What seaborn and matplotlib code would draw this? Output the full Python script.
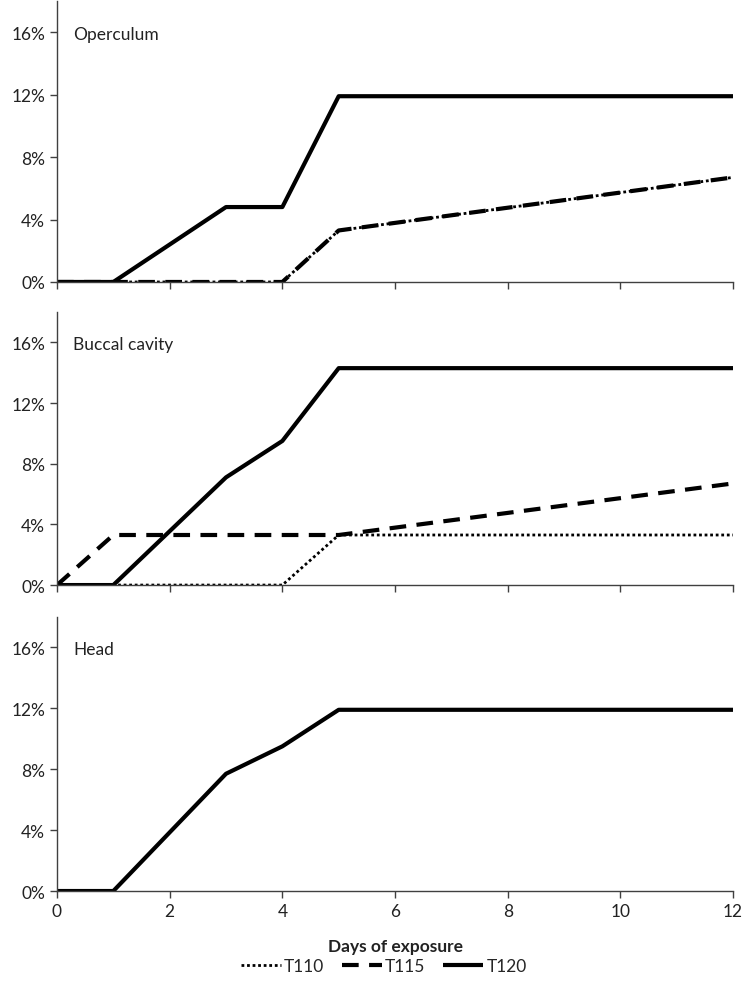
import matplotlib
matplotlib.use("Agg")
import matplotlib.pyplot as plt
import matplotlib.transforms as mtransforms
import seaborn as sns
import pandas as pd
from matplotlib.ticker import FuncFormatter, MultipleLocator
from matplotlib.lines import Line2D

days = [0, 1, 3, 4, 5, 12]
panels = ["Operculum", "Buccal cavity", "Head"]
series = ["T110", "T115", "T120"]

operculum_T110 = [0, 0, 0, 0, 3.3, 6.7]
operculum_T115 = [0, 0, 0, 0, 3.3, 6.7]
operculum_T120 = [0, 0, 4.8, 4.8, 11.9, 11.9]

buccal_T110 = [0, 0, 0, 0, 3.3, 3.3]
buccal_T115 = [0, 3.3, 3.3, 3.3, 3.3, 6.7]
buccal_T120 = [0, 0, 7.1, 9.5, 14.3, 14.3]

# T110 and T115 are not visible in the Head panel
head_T110 = []
head_T115 = []
head_T120 = [0, 0, 7.7, 9.5, 11.9, 11.9]

values = {
    "Operculum": [operculum_T110, operculum_T115, operculum_T120],
    "Buccal cavity": [buccal_T110, buccal_T115, buccal_T120],
    "Head": [head_T110, head_T115, head_T120],
}

rows = []
for p in panels:
    for s, vals in zip(series, values[p]):
        for d, v in zip(days, vals):
            rows.append({"panel": p, "series": s, "day": d, "value": v / 100})
df = pd.DataFrame(rows)

sns.set_style("white")
plt.rcParams["font.family"] = ["Lato", "DejaVu Sans"]

styles = {
    "T110": dict(linestyle=(0, (1, 1.0)), linewidth=2.0),
    "T115": dict(linestyle=(0, (4, 2.5)), linewidth=3.0),
    "T120": dict(linestyle="-", linewidth=3.0),
}

fig = plt.figure(figsize=(7.45, 9.95), dpi=100)
rects = [
    (0.0765, 0.7156, 0.9075, 0.2824),
    (0.0765, 0.4110, 0.9075, 0.2744),
    (0.0765, 0.1035, 0.9075, 0.2755),
]

for i, (p, r) in enumerate(zip(panels, rects)):
    ax = fig.add_axes(r)
    sub = df[df["panel"] == p]
    for s in series:
        d = sub[sub["series"] == s]
        if d.empty:
            continue
        sns.lineplot(data=d, x="day", y="value", ax=ax, color="black",
                     estimator=None, sort=False, legend=False,
                     solid_capstyle="butt", dash_capstyle="butt", **styles[s])
    ax.set_xlim(0, 12)
    ax.set_ylim(0, 0.18)
    ax.yaxis.set_major_locator(MultipleLocator(0.04))
    ax.yaxis.set_major_formatter(FuncFormatter(lambda v, _: f"{v*100:.0f}%"))
    ax.xaxis.set_major_locator(MultipleLocator(2))
    ax.set_ylabel("")
    ax.set_xlabel("")
    for sp in ["top", "right"]:
        ax.spines[sp].set_visible(False)
    for sp in ["left", "bottom"]:
        ax.spines[sp].set_color("#404040")
        ax.spines[sp].set_linewidth(1.0)
    ax.tick_params(axis="both", which="major", direction="out", length=5,
                   width=1, color="#404040", labelsize=12.5, labelcolor="#222222",
                   left=True, bottom=True)
    trans = mtransforms.blended_transform_factory(ax.transAxes, ax.transData)
    ax.text(0.024, 0.159, p, transform=trans, fontsize=12.5,
            color="#222222", va="center", ha="left")
    if i < 2:
        ax.tick_params(axis="x", labelbottom=False)
    else:
        ax.set_xlabel("Days of exposure", fontsize=12.5, fontweight="bold",
                      color="#222222", labelpad=14)

handles = [Line2D([0], [0], color="black", solid_capstyle="butt",
                  dash_capstyle="butt", **styles[s]) for s in series]
fig.legend(handles, series, loc="center", bbox_to_anchor=(0.515, 0.028),
           ncol=3, frameon=False, fontsize=12.5, handlelength=2.3,
           handletextpad=0.2, columnspacing=1.0)

fig.savefig("out.png", dpi=100)
